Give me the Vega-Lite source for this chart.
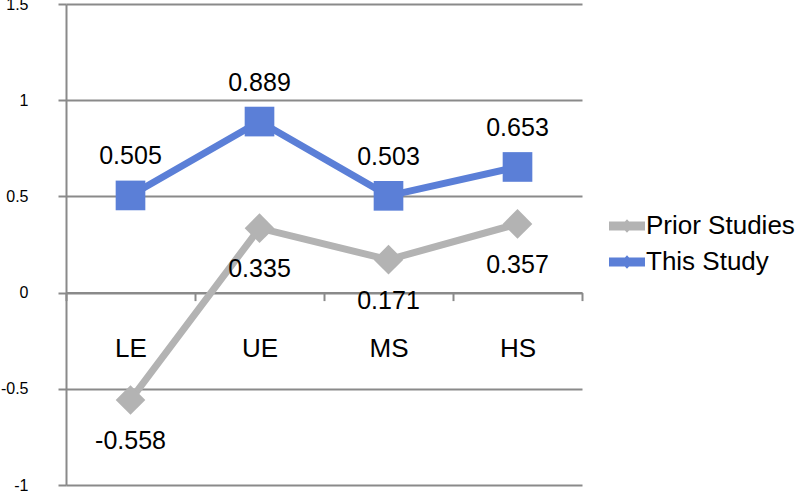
{
  "$schema": "https://vega.github.io/schema/vega-lite/v6.json",
  "width": 516,
  "height": 481,
  "autosize": "none",
  "padding": {"left": 66, "top": 4, "right": 218, "bottom": 8},
  "data": {
    "values": [
      {"level": "LE", "series": "Prior Studies", "value": -0.558},
      {"level": "UE", "series": "Prior Studies", "value": 0.335},
      {"level": "MS", "series": "Prior Studies", "value": 0.171},
      {"level": "HS", "series": "Prior Studies", "value": 0.357},
      {"level": "LE", "series": "This Study", "value": 0.505},
      {"level": "UE", "series": "This Study", "value": 0.889},
      {"level": "MS", "series": "This Study", "value": 0.503},
      {"level": "HS", "series": "This Study", "value": 0.653}
    ]
  },
  "encoding": {
    "x": {
      "field": "level",
      "type": "nominal",
      "sort": ["LE", "UE", "MS", "HS"],
      "scale": {"paddingInner": 0, "paddingOuter": 0},
      "axis": {
        "title": null,
        "orient": "bottom",
        "offset": -192.4,
        "labelAngle": 0,
        "labelFontSize": 26,
        "labelPadding": 35,
        "tickBand": "extent",
        "tickSize": 8,
        "tickWidth": 2,
        "tickColor": "#8a8a8a",
        "domainColor": "#8a8a8a",
        "domainWidth": 2,
        "grid": false
      }
    },
    "y": {
      "field": "value",
      "type": "quantitative",
      "scale": {"domain": [-1, 1.5], "nice": false, "zero": false},
      "axis": {
        "title": null,
        "values": [-1, -0.5, 0, 0.5, 1, 1.5],
        "labelExpr": "'' + datum.value",
        "labelFontSize": 16,
        "labelPadding": 30,
        "tickSize": 8,
        "tickWidth": 2,
        "tickColor": "#8a8a8a",
        "domainColor": "#8a8a8a",
        "domainWidth": 2,
        "grid": true,
        "gridColor": "#8a8a8a",
        "gridWidth": 2,
        "gridOpacity": 1
      }
    },
    "color": {
      "field": "series",
      "type": "nominal",
      "scale": {"domain": ["Prior Studies", "This Study"], "range": ["#b3b3b3", "#5b7fd7"]},
      "legend": {
        "title": null,
        "orient": "none",
        "legendX": 543,
        "legendY": 204,
        "labelFontSize": 26,
        "labelOffset": 1,
        "rowPadding": 5,
        "symbolSize": 1296,
        "symbolType": "M-1,-0.25 L1,-0.25 L1,0.25 L-1,0.25 Z M-0.34,0 L0,-0.38 L0.34,0 L0,0.38 Z",
        "symbolStrokeWidth": 0,
        "encode": {
          "symbols": {
            "update": {
              "shape": {"value": "M-1,-0.25 L1,-0.25 L1,0.25 L-1,0.25 Z M-0.34,0 L0,-0.38 L0.34,0 L0,0.38 Z"},
              "fill": {"scale": "color", "field": "value"},
              "fillOpacity": {"value": 1},
              "strokeWidth": {"value": 0}
            }
          }
        }
      }
    }
  },
  "layer": [
    {
      "mark": {"type": "line", "strokeWidth": 7}
    },
    {
      "transform": [{"filter": "datum.series == 'Prior Studies'"}],
      "mark": {"type": "point", "filled": true, "opacity": 1, "size": 880, "shape": "diamond"}
    },
    {
      "transform": [{"filter": "datum.series == 'This Study'"}],
      "mark": {"type": "point", "filled": true, "opacity": 1, "size": 880, "shape": "square"}
    },
    {
      "transform": [{"filter": "datum.series == 'This Study'"}],
      "mark": {"type": "text", "fontSize": 25, "dy": -39, "baseline": "middle", "color": "black"},
      "encoding": {
        "text": {"field": "value", "type": "quantitative", "format": ".3f"},
        "color": {"value": "black"}
      }
    },
    {
      "transform": [{"filter": "datum.series == 'Prior Studies'"}],
      "mark": {"type": "text", "fontSize": 25, "dy": 41, "baseline": "middle", "color": "black"},
      "encoding": {
        "text": {"field": "value", "type": "quantitative", "format": ".3f"},
        "color": {"value": "black"}
      }
    }
  ],
  "config": {
    "font": "Liberation Sans",
    "locale": {
      "number": {"decimal": ".", "thousands": ",", "grouping": [3], "currency": ["$", ""], "minus": "-"}
    },
    "view": {"stroke": null},
    "axis": {"labelColor": "black", "labelFont": "Liberation Sans"},
    "legend": {"labelColor": "black", "labelFont": "Liberation Sans"}
  }
}
